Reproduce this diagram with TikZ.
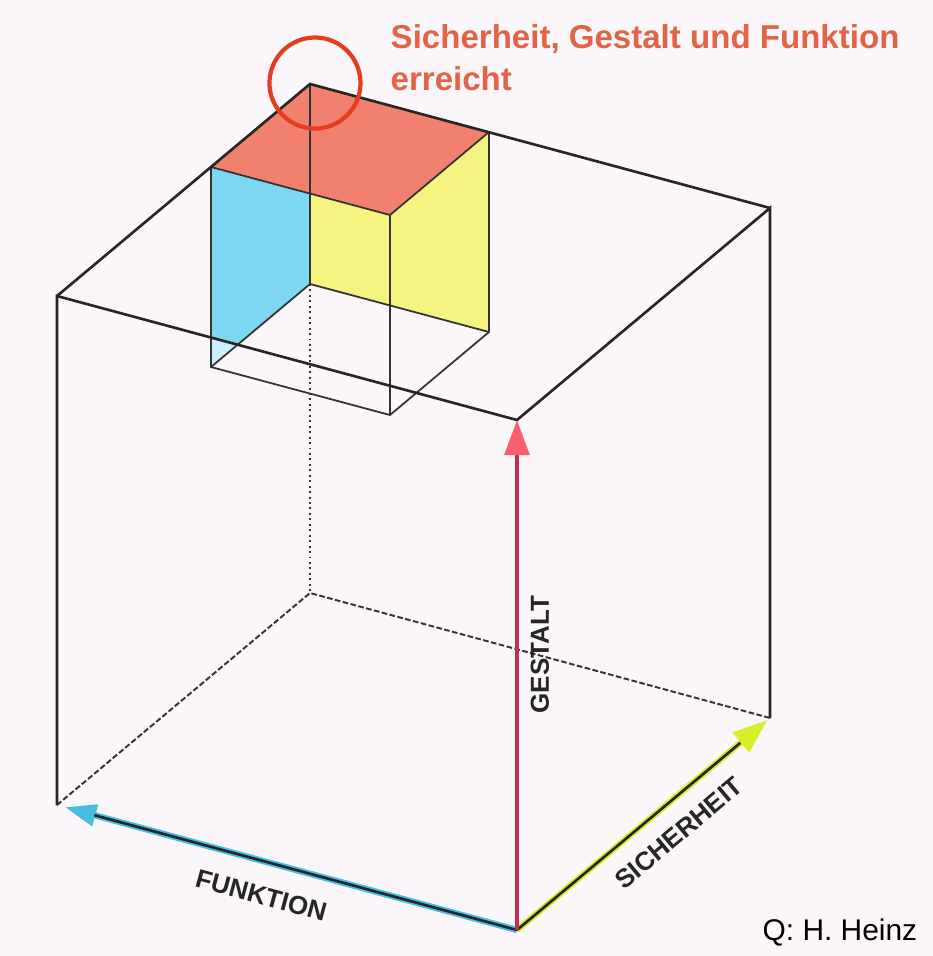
\documentclass[tikz,border=0pt]{standalone}
\usepackage{fontspec}
\setmainfont{Liberation Sans}
\usetikzlibrary{arrows.meta}

\definecolor{bgpaper}{RGB}{250,246,250}
\definecolor{topred}{RGB}{242,128,110}
\definecolor{wallblue}{RGB}{125,215,240}
\definecolor{wallyellow}{RGB}{246,244,128}
\definecolor{markred}{RGB}{228,62,32}
\definecolor{titlered}{RGB}{226,100,70}
\definecolor{gestaltline}{RGB}{196,45,80}
\definecolor{gestalthead}{RGB}{248,95,110}
\definecolor{funkcyan}{RGB}{70,190,228}
\definecolor{sichyellow}{RGB}{215,238,40}

\begin{document}
\begin{tikzpicture}[
  x=0.01cm, y=-0.01cm,
  edge/.style={draw=black!85, line width=0.75pt},
  thinedge/.style={draw=black!80, line width=0.5pt},
  hidden/.style={draw=black!80, line width=0.55pt, dash pattern=on 1.6pt off 0.7pt},
  axis/.style={line width=1.8pt},
  axislabel/.style={font=\bfseries\fontsize{7.4}{8}\selectfont, text=black!85,
    inner sep=0pt, sloped}
]

% Frame
\fill[bgpaper] (0,0) rectangle (933,956);
\useasboundingbox (0,0) rectangle (933,956);

% Big cube
\coordinate (o) at (517,930);
\coordinate (l) at (57,805);
\coordinate (r) at (770,718);
\coordinate (b) at (310,593);
\coordinate (ot) at (517,420);
\coordinate (lt) at (57,296);
\coordinate (rt) at (770,208);
\coordinate (bt) at (310,84);

% Small cube
\coordinate (sl) at (211,167);
\coordinate (sr) at (489,132);
\coordinate (sf) at (390,215);
\coordinate (sb) at (310,284);
\coordinate (slb) at (211,367);
\coordinate (srb) at (489,332);
\coordinate (sfb) at (390,415);

% Faces
\fill[wallblue] (bt) -- (sl) -- (slb) -- (sb) -- cycle;
\begin{scope}
  \clip (lt) -- (ot) -- (o) -- (l) -- cycle;
  \fill[wallblue!40] (bt) -- (sl) -- (slb) -- (sb) -- cycle;
\end{scope}
\fill[wallyellow] (bt) -- (sr) -- (srb) -- (sb) -- cycle;
\fill[topred] (bt) -- (sl) -- (sf) -- (sr) -- cycle;

% Hidden edges
\draw[hidden, densely dotted] (sb) -- (b);
\draw[hidden] (l) -- (b) -- (r);

% Small cube edges
\draw[thinedge] (sl) -- (sf) -- (sr);
\draw[thinedge] (sl) -- (slb) -- (sfb) -- (srb) -- (sr);
\draw[thinedge] (sf) -- (sfb);
\draw[thinedge] (bt) -- (sb);
\draw[thinedge] (slb) -- (sb) -- (srb);

% Big cube edges
\draw[edge] (l) -- (lt) -- (ot) -- (rt) -- (r);
\draw[edge] (lt) -- (bt) -- (rt);

% Axes
\draw[axis, funkcyan, -{Triangle[length=9pt,width=6pt]}, shorten >=0.8mm]
  (o) -- (l) node[axislabel, pos=0.537, below=2.1mm] {FUNKTION};
\draw[axis, sichyellow, -{Triangle[length=10pt,width=7pt]}, shorten >=0.3mm]
  (o) -- (r) node[axislabel, pos=0.565, below=1.7mm] {SICHERHEIT};
\draw[edge, shorten >=11pt] (o) -- (l);
\draw[edge, shorten >=11pt] (o) -- (r);
\draw[gestaltline, line width=1.3pt,
  -{Triangle[length=10pt,width=7pt,fill=gestalthead,color=gestalthead]}]
  (o) -- (ot) node[axislabel, allow upside down, pos=0.54, below=1.15mm] {GESTALT};

% Goal mark
\node[draw=markred, line width=1.2pt, circle, inner sep=0pt,
  minimum size=0.91cm] (mark) at (315,83) {};
\node[font=\bfseries\fontsize{9.4}{11.9}\selectfont, text=titlered,
  align=left, anchor=north west, inner sep=0pt] (goal) at (390,24)
  {Sicherheit, Gestalt und Funktion\\erreicht};

% Source
\node[font=\fontsize{8.5}{10}\selectfont, anchor=base west, inner sep=0pt]
  (source) at (762,940) {Q: H. Heinz};

\end{tikzpicture}
\end{document}
